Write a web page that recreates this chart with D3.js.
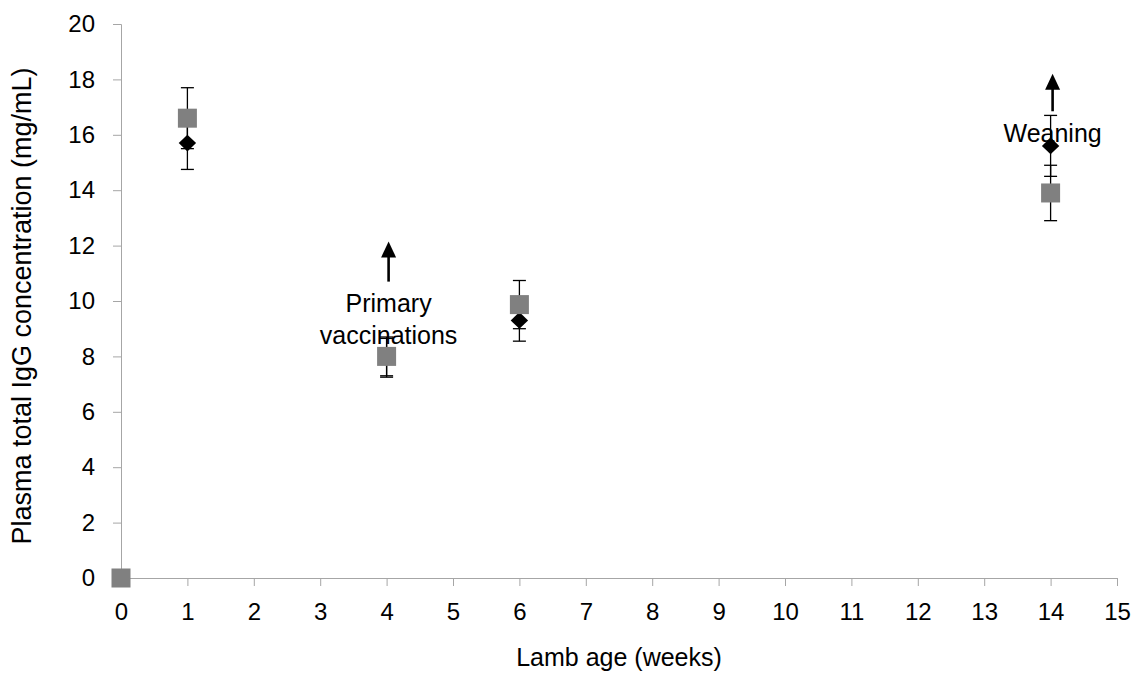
<!DOCTYPE html>
<html>
<head>
<meta charset="utf-8">
<script src="https://cdn.jsdelivr.net/npm/d3@7"></script>
<style>
  body { margin: 0; background: #fff; }
  text { font-family: "Liberation Sans", Arial, sans-serif; fill: #000; }
</style>
</head>
<body>
<svg id="chart" width="1138" height="673"></svg>
<script>
// Lamb age (weeks) at each sampling point
const weeks = [0, 1, 4, 6, 14];
// Group A (black diamonds): mean and error
const groupA = [0, 15.7, 7.95, 9.3, 15.6];
const groupAErr = [0, 0.95, 0.7, 0.75, 1.1];
// Group B (grey squares): mean and error
const groupB = [0, 16.6, 8.0, 9.87, 13.9];
const groupBErr = [0, 1.1, 0.7, 0.87, 1.0];
// Axis ticks
const xTicks = d3.range(0, 16);
const yTicks = d3.range(0, 21, 2);
// Event annotations: arrow base/tip and label baseline in data units
const events = [
  { week: 4, from: 10.7, to: 12.15, lines: ["Primary", "vaccinations"], labelY: 9.6 },
  { week: 14, from: 16.85, to: 18.2, lines: ["Weaning"], labelY: 15.73 }
];

const svg = d3.select("#chart");
const x = d3.scaleLinear().domain([0, 15]).range([121, 1117]);
const y = d3.scaleLinear().domain([0, 20]).range([578, 24]);

const axisColor = "#a6a6a6";
const tickFont = "24px";

// y axis
const yAxis = svg.append("g").attr("transform", `translate(${x(0)},0)`)
  .call(d3.axisLeft(y).tickValues(yTicks).tickSize(8).tickPadding(18).tickFormat(d3.format("d")));
yAxis.select(".domain").attr("stroke", axisColor);
yAxis.selectAll(".tick line").attr("stroke", axisColor);
yAxis.selectAll(".tick text").style("font-size", tickFont)
  .style("font-family", "Liberation Sans, Arial, sans-serif").attr("fill", "#000");

// x axis
const xAxis = svg.append("g").attr("transform", `translate(0,${y(0)})`)
  .call(d3.axisBottom(x).tickValues(xTicks).tickSize(8).tickPadding(17).tickFormat(d3.format("d")));
xAxis.select(".domain").attr("stroke", axisColor);
xAxis.selectAll(".tick line").attr("stroke", axisColor);
xAxis.selectAll(".tick text").style("font-size", tickFont)
  .style("font-family", "Liberation Sans, Arial, sans-serif").attr("fill", "#000");

// axis titles
svg.append("text").attr("x", 619).attr("y", 666).attr("text-anchor", "middle")
  .style("font-size", "25px").text("Lamb age (weeks)");
svg.append("text").attr("transform", "translate(31,306) rotate(-90)").attr("text-anchor", "middle")
  .style("font-size", "27px").text("Plasma total IgG concentration (mg/mL)");

// error bars
function errorBars(vals, errs) {
  const g = svg.append("g").attr("stroke", "#000").attr("stroke-width", 1.3);
  weeks.forEach((w, i) => {
    if (!errs[i]) return;
    const cx = x(w), top = y(vals[i] + errs[i]), bot = y(vals[i] - errs[i]);
    g.append("line").attr("x1", cx).attr("x2", cx).attr("y1", top).attr("y2", bot);
    g.append("line").attr("x1", cx - 6.5).attr("x2", cx + 6.5).attr("y1", top).attr("y2", top);
    g.append("line").attr("x1", cx - 6.5).attr("x2", cx + 6.5).attr("y1", bot).attr("y2", bot);
  });
}
errorBars(groupA, groupAErr);
errorBars(groupB, groupBErr);

// diamonds
const dw = 8.7, dh = 8.3;
svg.append("g").selectAll("path").data(weeks).join("path")
  .attr("d", `M0,${-dh}L${dw},0L0,${dh}L${-dw},0Z`)
  .attr("transform", (w, i) => `translate(${x(w)},${y(groupA[i])})`)
  .attr("fill", "#000");

// squares
const s = 19;
svg.append("g").selectAll("rect").data(weeks).join("rect")
  .attr("x", w => x(w) - s / 2)
  .attr("y", (w, i) => y(groupB[i]) - s / 2)
  .attr("width", s).attr("height", s)
  .attr("fill", "#808080");

// event arrows and labels
events.forEach(ev => {
  const cx = x(ev.week) + 2, y0 = y(ev.from), y1 = y(ev.to);
  const head = 16, half = 7.5;
  svg.append("line")
    .attr("x1", cx).attr("x2", cx)
    .attr("y1", y0).attr("y2", y1 + head - 1)
    .attr("stroke", "#000").attr("stroke-width", 2.6);
  svg.append("path")
    .attr("d", d3.line()([[cx, y1], [cx + half, y1 + head], [cx - half, y1 + head]]) + "Z")
    .attr("fill", "#000");
  ev.lines.forEach((line, k) => {
    svg.append("text")
      .attr("x", cx)
      .attr("y", y(ev.labelY) + k * 32)
      .attr("text-anchor", "middle")
      .style("font-size", "25px")
      .text(line);
  });
});
</script>
</body>
</html>
